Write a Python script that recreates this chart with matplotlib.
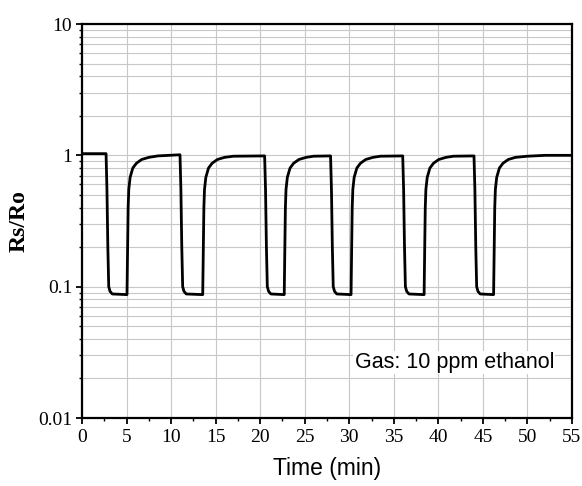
import matplotlib
matplotlib.use('Agg')
import matplotlib.pyplot as plt
from matplotlib.ticker import LogLocator, FixedLocator, NullFormatter

# Rs/Ro response (time in min)
time_min = [
    0.0, 2.70, 2.80, 2.90, 3.00, 3.15, 3.40, 5.05,
    5.12, 5.18, 5.25, 5.40, 5.70, 6.10, 6.70, 7.50, 8.50, 11.00,
    11.10, 11.20, 11.30, 11.45, 11.70, 13.55,
    13.62, 13.68, 13.75, 13.90, 14.20, 14.60, 15.20, 16.00, 17.00, 20.50,
    20.60, 20.70, 20.80, 20.95, 21.20, 22.70,
    22.77, 22.83, 22.90, 23.05, 23.35, 23.75, 24.35, 25.15, 26.00, 27.90,
    28.00, 28.10, 28.20, 28.35, 28.60, 30.20,
    30.27, 30.33, 30.40, 30.55, 30.85, 31.25, 31.85, 32.65, 33.50, 36.00,
    36.10, 36.20, 36.30, 36.45, 36.70, 38.40,
    38.47, 38.53, 38.60, 38.75, 39.05, 39.45, 40.05, 40.85, 41.70, 44.00,
    44.10, 44.20, 44.30, 44.45, 44.70, 46.20,
    46.27, 46.33, 46.40, 46.55, 46.85, 47.25, 47.85, 48.65, 50.00, 52.00, 55.00,
]
rs_ro = [
    1.03, 1.03, 0.55, 0.20, 0.10, 0.092, 0.088, 0.087,
    0.20, 0.40, 0.55, 0.68, 0.80, 0.87, 0.93, 0.965, 0.99, 1.01,
    0.55, 0.20, 0.10, 0.092, 0.088, 0.087,
    0.20, 0.40, 0.55, 0.68, 0.80, 0.87, 0.93, 0.965, 0.985, 0.99,
    0.55, 0.20, 0.10, 0.092, 0.088, 0.087,
    0.20, 0.40, 0.55, 0.68, 0.80, 0.87, 0.93, 0.965, 0.985, 0.99,
    0.55, 0.20, 0.10, 0.092, 0.088, 0.087,
    0.20, 0.40, 0.55, 0.68, 0.80, 0.87, 0.93, 0.965, 0.985, 0.99,
    0.55, 0.20, 0.10, 0.092, 0.088, 0.087,
    0.20, 0.40, 0.55, 0.68, 0.80, 0.87, 0.93, 0.965, 0.985, 0.99,
    0.55, 0.20, 0.10, 0.092, 0.088, 0.087,
    0.20, 0.40, 0.55, 0.68, 0.80, 0.87, 0.93, 0.965, 0.985, 1.00, 1.00,
]

x_ticks = [0, 5, 10, 15, 20, 25, 30, 35, 40, 45, 50, 55]
y_ticks = [0.01, 0.1, 1, 10]
y_tick_labels = ['0.01', '0.1', '1', '10']

fig = plt.figure(figsize=(5.82, 4.86), dpi=100)
ax = fig.add_axes([0.1409, 0.1399, 0.8419, 0.8107])

ax.plot(time_min, rs_ro, color='black', linewidth=2.0, solid_joinstyle='round')

ax.set_yscale('log')
ax.set_xlim(0, 55)
ax.set_ylim(0.01, 10)

ax.set_xticks(x_ticks)
ax.set_xticklabels([str(v) for v in x_ticks])
ax.xaxis.set_minor_locator(FixedLocator([v + 2.5 for v in x_ticks[:-1]]))
ax.set_yticks(y_ticks)
ax.set_yticklabels(y_tick_labels)
ax.yaxis.set_minor_locator(LogLocator(base=10, subs=range(2, 10)))
ax.yaxis.set_minor_formatter(NullFormatter())

for lab in ax.get_xticklabels() + ax.get_yticklabels():
    lab.set_fontfamily('Liberation Serif')
    lab.set_fontsize(14)

ax.tick_params(which='major', direction='out', length=4, width=1.3)
ax.tick_params(axis='x', which='major', pad=4)
ax.tick_params(axis='y', which='major', pad=3)
ax.tick_params(which='minor', direction='out', length=2.5, width=1.0)
ax.tick_params(top=False, right=False, which='both')

ax.grid(True, which='major', axis='x', color='#c8c8c8', linewidth=0.8)
ax.grid(True, which='both', axis='y', color='#c8c8c8', linewidth=0.8)

for s in ax.spines.values():
    s.set_linewidth(1.6)

ax.set_xlabel('Time (min)', fontfamily='Liberation Sans', fontsize=16.5, labelpad=8)
ax.set_ylabel('Rs/Ro', fontfamily='Liberation Serif', fontsize=17,
              fontweight='bold', labelpad=6)

ax.text(30.6, 0.0265, 'Gas: 10 ppm ethanol', fontfamily='Liberation Sans',
        fontsize=15.5, va='center', ha='left',
        bbox=dict(facecolor='white', edgecolor='none', pad=1))

fig.savefig('out.png', dpi=100)
